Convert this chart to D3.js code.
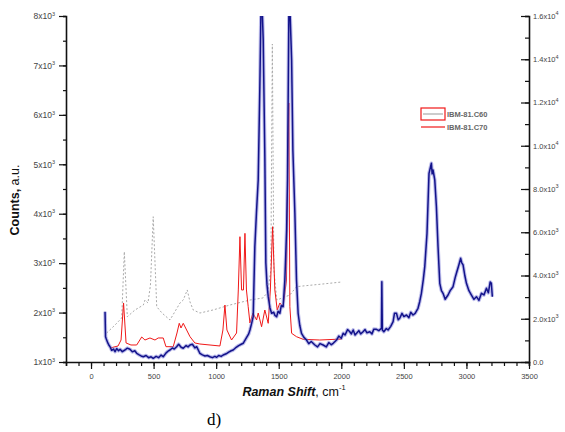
<!DOCTYPE html>
<html>
<head>
<meta charset="utf-8">
<script src="https://cdn.jsdelivr.net/npm/d3@7"></script>
<style>
  body { margin: 0; background: #fff; }
  svg { display: block; }
  .tick text { font-family: "Liberation Sans", Arial, sans-serif; font-size: 7.5px; fill: #444; }
  .domain, .tick line { stroke: #111; }
</style>
</head>
<body>
<div id="chart"></div>
<script>
// series names (legend)
const seriesNames = ["IBM-81.C60", "IBM-81.C70"];

// grey dashed series (C60), left axis
const greyX = [125, 192, 245, 266, 290, 351, 418, 431, 455, 475, 497, 525, 567, 631, 711, 737, 769, 791, 817, 870, 974, 1110, 1270, 1373, 1413, 1437, 1449, 1461, 1485, 1589, 1642, 1693, 1852, 2004];
const greyY = [1587, 1749, 1890, 3231, 1916, 2052, 2153, 2254, 2194, 2558, 3939, 2119, 1991, 1850, 2194, 2254, 2457, 2214, 2052, 1991, 2052, 2153, 2254, 2295, 2416, 2861, 7433, 2861, 2254, 2356, 2523, 2538, 2578, 2619];

// red series (C70), left axis
const redX = [152, 216, 240, 260, 280, 319, 365, 405, 431, 471, 511, 537, 577, 599, 657, 687, 705, 719, 737, 791, 830, 870, 1030, 1054, 1070, 1086, 1123, 1163, 1177, 1190, 1203, 1218, 1230, 1242, 1256, 1270, 1294, 1323, 1336, 1363, 1389, 1416, 1433, 1451, 1469, 1488, 1509, 1535, 1562, 1573, 1581, 1589, 1603, 1642, 1695, 1828, 2004];
const redY = [1283, 1324, 1445, 2194, 1385, 1344, 1344, 1506, 1445, 1486, 1445, 1486, 1486, 1310, 1310, 1587, 1783, 1688, 1783, 1512, 1385, 1364, 1324, 1647, 2153, 1647, 1445, 1587, 2457, 3535, 2457, 2457, 3603, 2457, 2119, 1789, 1991, 1850, 1991, 1714, 2052, 1783, 2457, 3737, 2457, 2052, 2194, 2119, 2659, 5087, 6240, 2119, 1581, 1512, 1459, 1445, 1465];

// blue series, right axis
const blueX = [112, 116, 122, 125, 135, 145, 152, 165, 180, 192, 205, 220, 232, 250, 271, 290, 311, 330, 350, 365, 385, 400, 418, 440, 460, 480, 497, 520, 540, 560, 577, 600, 615, 631, 650, 665, 684, 700, 720, 737, 760, 775, 791, 810, 830, 844, 860, 870, 890, 910, 930, 950, 970, 990, 1004, 1020, 1040, 1056, 1080, 1100, 1120, 1136, 1160, 1180, 1200, 1216, 1240, 1260, 1270, 1284, 1296, 1309, 1322, 1336, 1349, 1361, 1376, 1389, 1397, 1406, 1416, 1430, 1443, 1460, 1470, 1483, 1495, 1509, 1520, 1535, 1549, 1563, 1570, 1583, 1603, 1613, 1629, 1642, 1655, 1668, 1682, 1700, 1722, 1740, 1760, 1789, 1810, 1830, 1855, 1880, 1900, 1920, 1935, 1950, 1962, 1980, 2000, 2015, 2030, 2050, 2068, 2080, 2095, 2110, 2122, 2140, 2155, 2174, 2190, 2205, 2228, 2245, 2260, 2281, 2300, 2321, 2324, 2328, 2340, 2360, 2374, 2395, 2414, 2425, 2441, 2455, 2467, 2485, 2500, 2521, 2540, 2555, 2573, 2590, 2613, 2627, 2640, 2655, 2667, 2685, 2701, 2712, 2720, 2726, 2733, 2747, 2760, 2773, 2787, 2800, 2813, 2830, 2853, 2870, 2893, 2910, 2920, 2940, 2954, 2962, 2973, 2987, 3000, 3020, 3040, 3060, 3080, 3100, 3120, 3140, 3160, 3175, 3190, 3199, 3207];
const blueY = [2326, 1170, 1060, 1017, 870, 760, 708, 540, 600, 476, 620, 520, 587, 480, 555, 640, 587, 470, 520, 402, 330, 280, 245, 300, 200, 240, 171, 260, 200, 320, 245, 420, 500, 555, 650, 600, 708, 820, 680, 634, 760, 700, 786, 820, 650, 708, 520, 402, 330, 280, 300, 245, 200, 260, 217, 300, 260, 324, 380, 460, 520, 555, 680, 760, 820, 865, 1100, 1300, 1480, 1800, 2095, 5332, 6900, 8416, 12731, 17500, 14890, 9494, 4578, 3600, 3020, 2500, 2252, 2300, 2150, 2095, 2350, 2252, 2600, 2557, 3792, 6104, 8416, 17500, 13965, 9803, 6876, 3792, 2252, 1700, 1327, 1150, 1017, 850, 950, 786, 700, 850, 786, 700, 900, 800, 865, 950, 1017, 1200, 1100, 1327, 1250, 1500, 1401, 1300, 1480, 1250, 1327, 1450, 1300, 1401, 1500, 1350, 1401, 1300, 1520, 1512, 1450, 1558, 3713, 1480, 1400, 1550, 1480, 1650, 1864, 2250, 2252, 1950, 2021, 2250, 2100, 2173, 2050, 2300, 2173, 2250, 2483, 2800, 3177, 3800, 4407, 5951, 8726, 9000, 9189, 8700, 8879, 8416, 7182, 5332, 3639, 3300, 3177, 2900, 3098, 3300, 3482, 3900, 4102, 4500, 4795, 4600, 4486, 4000, 3639, 3300, 3098, 2900, 3020, 2850, 3177, 3100, 3408, 3200, 3700, 3639, 3020];

// tick values / labels
const xTicks = [0, 500, 1000, 1500, 2000, 2500, 3000, 3500];
const leftTicks = [1000, 2000, 3000, 4000, 5000, 6000, 7000, 8000];
const leftLabels = ["1x10|3", "2x10|3", "3x10|3", "4x10|3", "5x10|3", "6x10|3", "7x10|3", "8x10|3"];
const rightTicks = [0, 2000, 4000, 6000, 8000, 10000, 12000, 14000, 16000];
const rightLabels = ["0.0", "2.0x10|3", "4.0x10|3", "6.0x10|3", "8.0x10|3", "1.0x10|4", "1.2x10|4", "1.4x10|4", "1.6x10|4"];

(function(){
  "use strict";

  const W = 565, H = 432;
  const left = 66, right = 529, top = 16, bottom = 362;

  let svg = d3.select("#chart").append("svg")
    .attr("width", W).attr("height", H);

  // scales
  let x = d3.scaleLinear().domain([-200, 3500]).range([left, right]);
  let yL = d3.scaleLinear().domain([1000, 8000]).range([bottom, top]);
  let yR = d3.scaleLinear().domain([0, 16000]).range([bottom, top]);

  // clip so big peaks are cut at the top of the frame
  svg.append("clipPath").attr("id", "clip")
    .append("rect")
    .attr("x", left).attr("y", top)
    .attr("width", right - left).attr("height", bottom - top);

  let plot = svg.append("g").attr("clip-path", "url(#clip)");

  function pts(xs, ys){ return xs.map((v, i) => [v, ys[i]]); }

  let lineL = d3.line().x(d => x(d[0])).y(d => yL(d[1]));
  let lineR = d3.line().x(d => x(d[0])).y(d => yR(d[1]));

  // grey dashed
  plot.append("path")
    .attr("d", lineL(pts(greyX, greyY)))
    .attr("fill", "none")
    .attr("stroke", "#aaa")
    .attr("stroke-width", 1)
    .attr("stroke-dasharray", "2,2");

  // red
  plot.append("path")
    .attr("d", lineL(pts(redX, redY)))
    .attr("fill", "none")
    .attr("stroke", "#f01818")
    .attr("stroke-width", 1);

  // blue: soft halo then core
  let bluePts = pts(blueX, blueY);
  plot.append("path")
    .attr("d", lineR(bluePts))
    .attr("fill", "none")
    .attr("stroke", "#7a7ad8")
    .attr("stroke-opacity", 0.5)
    .attr("stroke-width", 3.6)
    .attr("stroke-linejoin", "round");
  plot.append("path")
    .attr("d", lineR(bluePts))
    .attr("fill", "none")
    .attr("stroke", "#13138a")
    .attr("stroke-width", 1.5)
    .attr("stroke-linejoin", "round");

  // puts "a|b" label into text with b as superscript
  function supLabel(sel, lab){
    sel.text(null);
    let parts = lab.split("|");
    sel.append("tspan").text(parts[0]);
    if (parts.length > 1){
      sel.append("tspan").attr("dy", -3.5).attr("font-size", "5.5px").text(parts[1]);
    }
  }

  // bottom axis
  let xMinor = d3.range(-200, 3501, 100);
  svg.append("g")
    .attr("transform", `translate(0,${bottom})`)
    .call(d3.axisBottom(x).tickValues(xMinor).tickSize(4).tickFormat(""))
    .call(g => g.selectAll("line").attr("stroke-width", 1.2))
    .select(".domain").attr("stroke-width", 1.6);
  svg.append("g")
    .attr("transform", `translate(0,${bottom})`)
    .call(d3.axisBottom(x).tickValues(xTicks).tickSize(7).tickPadding(5).tickFormat(d3.format("d")))
    .call(g => g.select(".domain").remove())
    .call(g => g.selectAll("line").attr("stroke-width", 1.2));

  // left axis
  svg.append("g")
    .attr("transform", `translate(${left},0)`)
    .call(d3.axisLeft(yL).tickValues(d3.range(1000, 8001, 500)).tickSize(3).tickFormat(""))
    .call(g => g.selectAll("line").attr("stroke-width", 1.2))
    .select(".domain").attr("stroke-width", 1.6);
  svg.append("g")
    .attr("transform", `translate(${left},0)`)
    .call(d3.axisLeft(yL).tickValues(leftTicks).tickSize(7).tickPadding(4).tickFormat(""))
    .call(g => g.select(".domain").remove())
    .call(g => g.selectAll("line").attr("stroke-width", 1.2))
    .call(g => g.selectAll(".tick text")
      .style("font-size", "8.5px")
      .each(function(d, i){ supLabel(d3.select(this), leftLabels[i]); }));

  // right axis, ticks point inwards
  svg.append("g")
    .attr("transform", `translate(${right},0)`)
    .call(d3.axisLeft(yR).tickValues(d3.range(0, 16001, 1000)).tickSize(4).tickFormat(""))
    .call(g => g.selectAll("line").attr("stroke-width", 1.2))
    .select(".domain").attr("stroke-width", 1.6);
  svg.append("g")
    .attr("transform", `translate(${right},0)`)
    .call(d3.axisLeft(yR).tickValues(rightTicks).tickSize(8).tickFormat(""))
    .call(g => g.select(".domain").remove())
    .call(g => g.selectAll("line").attr("stroke-width", 1.2))
    .call(g => g.selectAll(".tick text")
      .attr("x", 4).attr("text-anchor", "start").attr("fill", "#777")
      .style("font-size", "7.5px")
      .each(function(d, i){ supLabel(d3.select(this), rightLabels[i]); }));

  // axis titles
  let yt = svg.append("text")
    .attr("transform", "translate(19,200) rotate(-90)")
    .attr("text-anchor", "middle")
    .style("font-family", "Liberation Sans, Arial, sans-serif")
    .style("font-size", "12.5px").attr("fill", "#111");
  yt.append("tspan").attr("font-weight", "bold").text("Counts,");
  yt.append("tspan").text(" a.u.");

  let xt = svg.append("text")
    .attr("x", 294).attr("y", 396)
    .attr("text-anchor", "middle")
    .style("font-family", "Liberation Sans, Arial, sans-serif")
    .style("font-size", "12.5px").attr("fill", "#111");
  xt.append("tspan").attr("font-weight", "bold").attr("font-style", "italic").text("Raman Shift");
  xt.append("tspan").text(", cm");
  xt.append("tspan").attr("dy", -6).style("font-size", "7.5px").text("-1");

  svg.append("text")
    .attr("x", 214).attr("y", 425)
    .attr("text-anchor", "middle")
    .style("font-family", "Liberation Serif, Times New Roman, serif")
    .style("font-size", "17px").attr("fill", "#000")
    .text("d)");

  // legend
  let lg = svg.append("g")
    .style("font-family", "Liberation Sans, Arial, sans-serif")
    .style("font-size", "7.5px").style("font-weight", "bold");
  lg.append("rect")
    .attr("x", 421).attr("y", 108).attr("width", 24).attr("height", 12)
    .attr("fill", "none").attr("stroke", "#f01818").attr("stroke-width", 1.2);
  lg.append("line")
    .attr("x1", 423).attr("x2", 443).attr("y1", 114).attr("y2", 114)
    .attr("stroke", "#aaa").attr("stroke-width", 1.2);
  lg.append("text").attr("x", 447).attr("y", 117).attr("fill", "#666").text(seriesNames[0]);
  lg.append("line")
    .attr("x1", 421).attr("x2", 445).attr("y1", 127).attr("y2", 127)
    .attr("stroke", "#f01818").attr("stroke-width", 1.2);
  lg.append("text").attr("x", 447).attr("y", 130).attr("fill", "#666").text(seriesNames[1]);
})();
</script>
</body>
</html>
